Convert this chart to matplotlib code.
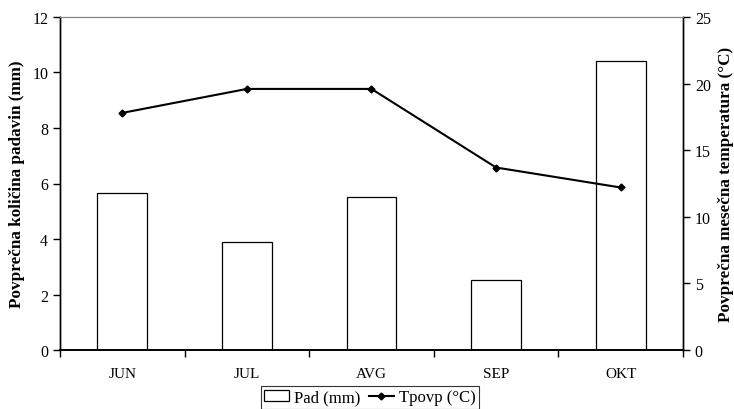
import matplotlib
matplotlib.use("Agg")
import matplotlib.pyplot as plt
import numpy as np

plt.rcParams['font.family'] = ['Liberation Serif', 'DejaVu Serif']

# podatki
meseci = ["JUN", "JUL", "AVG", "SEP", "OKT"]
padavine = [5.65, 3.88, 5.52, 2.54, 10.42]   # mm
temperatura = [17.8, 19.6, 19.6, 13.7, 12.2]  # °C

x = np.arange(len(meseci))

fig = plt.figure(figsize=(7.34, 4.10), dpi=100)
ax = fig.add_axes([0.0817, 0.1439, 0.8488, 0.8122])
ax2 = ax.twinx()

ax.bar(x, padavine, width=0.4, facecolor='white', edgecolor='black', linewidth=0.9,
       label='Pad (mm)', zorder=2)
ax2.plot(x, temperatura, color='black', linewidth=1.5, marker='D', markersize=3.5,
         label='Tpovp (°C)')

ax.set_xlim(-0.5, len(meseci) - 0.5)
ax.set_ylim(0, 12)
ax.set_yticks(range(0, 13, 2))
ax2.set_ylim(0, 25)
ax2.set_yticks(range(0, 26, 5))

# oznake x na sredini, kljukice na mejah
ax.set_xticks(x)
ax.set_xticklabels(meseci)
ax.set_xticks(np.arange(-0.5, len(meseci)), minor=True)
ax.tick_params(axis='x', which='major', length=0, pad=12, labelsize=11)
ax.tick_params(axis='x', which='minor', length=5, direction='out', width=1)
ax.tick_params(axis='y', length=5, direction='out', width=1, labelsize=11.5)
ax2.tick_params(axis='y', length=5, direction='out', width=1, labelsize=11.5)

for a in (ax, ax2):
    a.spines['top'].set_color('#808080')
    a.spines['left'].set_linewidth(1.0)
    a.spines['right'].set_linewidth(1.0)
    a.spines['bottom'].set_linewidth(1.2)

ax.set_ylabel('Povprečna količina padavin (mm)', fontsize=12.3, fontweight='bold', labelpad=5)
ax2.set_ylabel('Povprečna mesečna temperatura (°C)', fontsize=12.3, fontweight='bold', labelpad=5)

h1, l1 = ax.get_legend_handles_labels()
h2, l2 = ax2.get_legend_handles_labels()
leg = fig.legend(h1 + h2, l1 + l2, loc='upper center', bbox_to_anchor=(0.504, 0.056),
                 ncol=2, fontsize=12, frameon=True, fancybox=False, edgecolor='black',
                 handlelength=1.5, handletextpad=0.3, columnspacing=0.5,
                 borderpad=0.2, borderaxespad=0)
leg.get_frame().set_linewidth(0.8)

fig.savefig('out.png', dpi=100)
